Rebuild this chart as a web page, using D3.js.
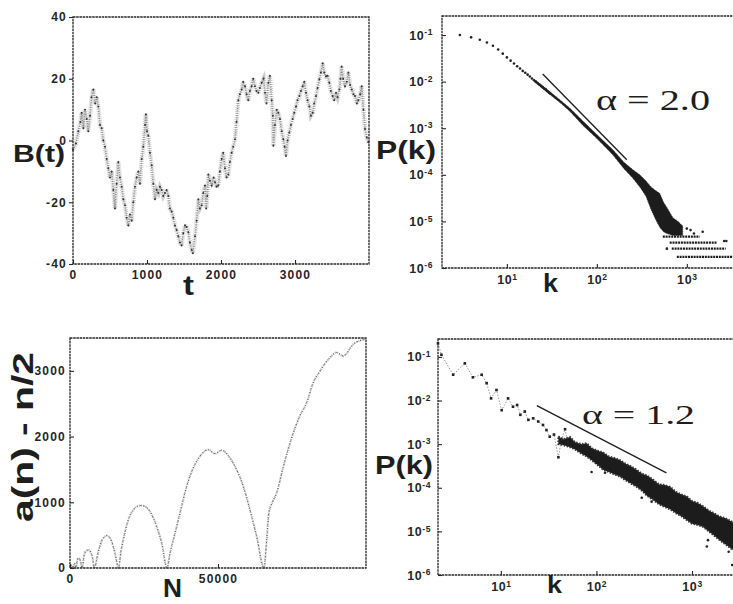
<!DOCTYPE html>
<html><head><meta charset="utf-8">
<script src="https://cdn.jsdelivr.net/npm/d3@7"></script>
<style>
html,body{margin:0;padding:0;background:#fff;}
svg{display:block;}
</style></head>
<body><svg id="fig" width="733" height="604"></svg>
<script>
// ---------- data ----------
// (a) random walk B(t)
var walkT = [0,40,72,100,117,140,162,185,207,230,250,275,300,320,342,365,387,410,432,455,477,500,522,545,567,590,612,635,658,680,703,725,748,770,793,815,838,860,883,905,928,950,973,985,1000,1018,1040,1063,1085,1108,1130,1153,1175,1198,1220,1243,1265,1288,1310,1333,1355,1378,1400,1423,1445,1468,1490,1514,1535,1559,1580,1604,1620,1649,1670,1694,1715,1739,1760,1784,1800,1815,1829,1850,1874,1900,1919,1940,1964,1985,2009,2030,2054,2075,2099,2120,2144,2165,2189,2210,2234,2255,2279,2300,2324,2345,2369,2390,2414,2435,2459,2480,2505,2525,2550,2575,2595,2615,2640,2660,2685,2700,2707,2730,2752,2775,2797,2820,2842,2860,2878,2900,2923,2945,2968,2990,3014,3035,3059,3080,3104,3125,3149,3170,3194,3215,3239,3260,3284,3305,3329,3350,3374,3395,3419,3440,3464,3485,3509,3530,3554,3575,3599,3615,3631,3650,3676,3700,3721,3745,3766,3790,3811,3835,3856,3880,3901,3925,3946,3970,3991];
var walkB = [-3,-1,3,6,9,4,10,7,3,8,14,16.5,12,14,11,5,4,0,-2,-6,-9,-12,-10,-16,-22,-14,-7,-12,-15,-19,-21,-25,-27.5,-24,-26,-20,-15,-12,-10,-14,-6,-2,5,8.5,3,1.5,-4,-8,-14,-19,-16,-17,-15,-16,-18,-17,-16,-18,-22,-23,-25,-27.5,-29,-31,-33,-34,-30,-27.5,-28,-29.7,-33,-35.5,-36.5,-31,-26,-19,-22,-21,-17,-14.6,-22,-18,-11,-13,-14.6,-12,-13.5,-15,-14.6,-10,-6,-4,-9,-12,-11,-7,-4,-2,0.4,6,13,15,16.5,19,17.6,15,13,16,17.6,20,17.6,16,15.5,17,18.7,20,15.5,12,18.7,21,13,8,-1.7,5,10,9,7,3,0.4,-2,-5,0,2.6,5,7,9,11,13,14.4,16,17.6,19,15.5,13,11,8,9,12,14.4,17,19.8,22,25,22,20.8,21,18.7,16,14.4,13,15.5,14,16.5,20,24,20,17.6,19,22,18,16.5,15,14.4,12,13,15,17.6,10,3.7,1,-0.6];
var walkXTicks = [0, 1000, 2000, 3000];
var walkYTicks = [-40, -20, 0, 20, 40];

// (b) P(k), alpha = 2.0
var dotK2 = [3,4,5,6,7,8,9,10,11,12,13,14,15,16,17,18,19,20,21,22,23,24,25,26,27,28,29,30];
var dotP2 = [0.1,0.0891,0.0794,0.0692,0.0589,0.049,0.0398,0.0331,0.0282,0.0245,0.0214,0.0191,0.017,0.0155,0.0141,0.0129,0.0117,0.0107,0.01,0.0093,0.0087,0.0081,0.0076,0.0071,0.0068,0.0063,0.006,0.0056];
var bandK2 = [20,30,40,50,70,100,130,150,200,250,300,350,400,450,500,550,600,700,800,900];
var bandHi2 = [0.0112,0.0061,0.0039,0.0027,0.00142,7.3e-4,4.5e-4,3.5e-4,1.85e-4,1.3e-4,1.0e-4,7.5e-5,5.5e-5,4.6e-5,4e-5,2.6e-5,2e-5,1.2e-5,1e-5,8e-6];
var bandLo2 = [0.0100,0.0053,0.0034,0.0023,0.00115,6.0e-4,3.6e-4,2.7e-4,1.35e-4,8.5e-5,5.5e-5,3.5e-5,1.8e-5,1.1e-5,7.5e-6,6e-6,5.5e-6,5e-6,5e-6,5e-6];
var levelP2 = [4.7e-6, 3.5e-6, 2.6e-6, 1.74e-6];
var levelK0 = [541, 645, 680, 774];
var levelK1 = [1390, 2150, 2700, 4000];
var strayK2 = [1100, 1200, 1500, 2600, 2750, 600, 1000];
var strayP2 = [6.5e-6, 5.5e-6, 6e-6, 3.8e-6, 3.8e-6, 2.6e-6, 7e-6];
var fitK2 = [25, 215];
var fitP2 = [0.0145, 2.1e-4];

// (c) a(n) - n/2
var seqN = [0,500,1024,1500,2048,2500,2900,3500,4096,4800,5500,6200,7000,7600,8192,9570,10500,11260,12400,13300,14080,15200,16384,17200,18000,19700,21400,22800,24200,25600,27000,29300,31000,32768,33800,34900,37160,39400,41650,43900,46700,49000,51240,54050,56300,58560,60800,63070,65536,66400,67200,68400,69800,72100,75450,77500,79950,82000,84460,87800,90000,92300,95700,99700];
var seqA = [0,40,0,70,0,130,150,110,0,200,260,275,240,160,0,249,390,453,493,470,402,224,0,250,427,733,885,940,951,930,860,630,377,0,230,427,835,1241,1522,1700,1800,1740,1791,1675,1496,1241,885,478,0,400,840,1000,1140,1547,2056,2300,2514,2800,2997,3200,3280,3226,3404,3480];
var seqXTicks = [0, 50000];
var seqYTicks = [0, 1000, 2000, 3000];

// (d) P(k), alpha = 1.2
var dotK4 = [2.2,2.39,3.17,4.2,5.1,6.3,7.1,7.9,9.0,10.2,11.9,13.4,14.8,16,17.8,19.4,21.8,24.6,27.6,30,32.5,36,40,43,47,50];
var dotP4 = [0.204,0.112,0.039,0.071,0.034,0.039,0.025,0.0112,0.0174,0.006,0.0112,0.0072,0.0079,0.0047,0.0056,0.0036,0.0039,0.0033,0.00275,0.0021,0.00148,0.00166,0.0005,0.00126,0.0022,0.00112];
var bandK4 = [40,45,53,60,70,79,90,105,117,135,155,176,200,230,263,300,340,390,450,520,590,680,780,885,1000,1150,1320,1500,1700,1950,2250,2700,3500];
var bandHi4 = [1.5e-3,1.3e-3,1.45e-3,1.1e-3,1.0e-3,1.05e-3,8e-4,7e-4,6.5e-4,5.2e-4,4.8e-4,4.3e-4,3.6e-4,3.1e-4,2.6e-4,2.1e-4,1.9e-4,1.55e-4,1.2e-4,1.15e-4,1.05e-4,8e-5,7e-5,6.3e-5,5e-5,4.5e-5,3.7e-5,3e-5,2.6e-5,2.2e-5,2.0e-5,1.6e-5,1.2e-5];
var bandLo4 = [1.0e-3,9.5e-4,8.5e-4,7.5e-4,6e-4,5.2e-4,4.2e-4,3.2e-4,2.6e-4,2.3e-4,2.0e-4,1.8e-4,1.5e-4,1.25e-4,1.05e-4,8.5e-5,6.5e-5,5.3e-5,4.2e-5,3.6e-5,3.2e-5,2.6e-5,2.2e-5,1.8e-5,1.5e-5,1.4e-5,1.25e-5,1.0e-5,8e-6,6.3e-6,5e-6,3.7e-6,3e-6];
var strayK4 = [89,123,298,378,1430,1470,2420,2630];
var strayP4 = [2.3e-4,2.2e-4,5.9e-5,4.8e-5,4.5e-6,6.3e-6,3.4e-6,1.7e-6];
var fitK4 = [23.8, 540];
var fitP4 = [7.6e-3, 2.2e-4];

var logXTicks = [10, 100, 1000];
var logYTicks = [1e-1, 1e-2, 1e-3, 1e-4, 1e-5, 1e-6];

// ---------- helpers ----------
var svg = d3.select('#fig');
var SANS = '"Liberation Sans", Arial, Helvetica, sans-serif';
var SERIF = '"Liberation Serif", "Times New Roman", serif';
var INK = '#262626';
var plain = function (d) { return String(d); };

function frame(x, y) {
  var r0 = x.range(), r1 = y.range();
  svg.append('rect').attr('x', r0[0]).attr('y', r1[1]).attr('width', r0[1] - r0[0]).attr('height', r1[0] - r1[1])
    .attr('fill', 'none').attr('stroke', INK).attr('stroke-width', 1.3).attr('stroke-dasharray', '2.5,0.7');
}
function styleAxis(g) {
  g.select('.domain').remove();
  g.selectAll('line').attr('stroke', INK).attr('stroke-width', 1.1);
  g.selectAll('text').attr('fill', INK).attr('font-family', SANS).attr('font-weight', 'bold')
    .attr('font-size', 12).attr('letter-spacing', 1.2);
}
function powLabel(g) {
  g.selectAll('text').each(function (d) {
    var t = d3.select(this), e = Math.round(Math.log10(d));
    t.text(null).attr('letter-spacing', 0.6).attr('font-size', 12.5);
    t.append('tspan').text('10');
    t.append('tspan').attr('dy', '-0.5em').attr('font-size', 8.5).text(e);
  });
}
function label(txt, x, y, size, len, font) {
  return svg.append('text').attr('x', x).attr('y', y).attr('font-family', font || SANS)
    .attr('font-weight', font ? 'normal' : 'bold').attr('font-size', size).attr('fill', '#1e1e1e')
    .attr('textLength', len).attr('lengthAdjust', 'spacingAndGlyphs').text(txt);
}
function idx(a) { return a.map(function (_, i) { return i; }); }

// ---------- (a) B(t) ----------
(function () {
  var x = d3.scaleLinear().domain([0, 4000]).range([73, 369]);
  var y = d3.scaleLinear().domain([-40, 40]).range([264, 17]);
  var line = d3.line().x(function (i) { return x(walkT[i]); }).y(function (i) { return y(walkB[i]); });
  svg.append('path').datum(idx(walkT)).attr('d', line).attr('fill', 'none').attr('stroke', '#cfcfcf').attr('stroke-width', 4.5).attr('stroke-dasharray', '1,1');
  svg.append('path').datum(idx(walkT)).attr('d', line).attr('fill', 'none').attr('stroke', '#8c8c8c').attr('stroke-width', 1.6).attr('stroke-dasharray', '1,1.4');
  svg.append('g').selectAll('circle').data(idx(walkT)).join('circle')
    .attr('cx', function (i) { return x(walkT[i]); }).attr('cy', function (i) { return y(walkB[i]); })
    .attr('r', 1).attr('fill', '#333');
  svg.append('g').attr('transform', 'translate(0,264)')
    .call(d3.axisBottom(x).tickValues(walkXTicks).tickFormat(plain).tickSizeInner(-4).tickSizeOuter(0).tickPadding(6)).call(styleAxis);
  svg.append('g').attr('transform', 'translate(73,0)')
    .call(d3.axisLeft(y).tickValues(walkYTicks).tickFormat(plain).tickSizeInner(4).tickSizeOuter(0).tickPadding(2)).call(styleAxis);
  frame(x, y);
  label('B(t)', 13, 162, 24, 52);
  label('t', 183, 295, 27, 11);
})();

// ---------- (b) P(k) alpha=2.0 ----------
(function () {
  var x = d3.scaleLog().domain([1.9, 4000]).range([442, 741]);
  var y = d3.scaleLog().domain([1e-6, 0.256]).range([268, 16]);
  var area = d3.area().x(function (i) { return x(bandK2[i]); })
    .y0(function (i) { return y(bandLo2[i]); }).y1(function (i) { return y(bandHi2[i]); });
  svg.append('path').datum(idx(bandK2)).attr('d', area).attr('fill', '#1c1c1c').attr('stroke', '#333').attr('stroke-width', 0.8).attr('stroke-dasharray', '1,1');
  svg.append('g').selectAll('circle').data(idx(dotK2)).join('circle')
    .attr('cx', function (i) { return x(dotK2[i]); }).attr('cy', function (i) { return y(dotP2[i]); })
    .attr('r', 1.3).attr('fill', '#222');
  svg.append('g').selectAll('line').data(idx(levelP2)).join('line')
    .attr('x1', function (i) { return x(levelK0[i]); }).attr('x2', function (i) { return x(levelK1[i]); })
    .attr('y1', function (i) { return y(levelP2[i]); }).attr('y2', function (i) { return y(levelP2[i]); })
    .attr('stroke', '#1c1c1c').attr('stroke-width', 2.2).attr('stroke-dasharray', '2,0.8');
  svg.append('g').selectAll('circle').data(idx(strayK2)).join('circle')
    .attr('cx', function (i) { return x(strayK2[i]); }).attr('cy', function (i) { return y(strayP2[i]); })
    .attr('r', 1.3).attr('fill', '#222');
  svg.append('line').attr('x1', x(fitK2[0])).attr('y1', y(fitP2[0])).attr('x2', x(fitK2[1])).attr('y2', y(fitP2[1]))
    .attr('stroke', '#222').attr('stroke-width', 1.4);
  svg.append('g').attr('transform', 'translate(0,268)')
    .call(d3.axisBottom(x).tickValues(logXTicks).tickSizeInner(-4).tickSizeOuter(0).tickPadding(7)).call(styleAxis).call(powLabel);
  svg.append('g').attr('transform', 'translate(442,0)')
    .call(d3.axisLeft(y).tickValues(logYTicks).tickSizeInner(-4).tickSizeOuter(0).tickPadding(9)).call(styleAxis).call(powLabel);
  frame(x, y);
  label('P(k)', 376, 159, 26, 60);
  label('k', 543, 292, 25, 15);
  label('\u03b1 = 2.0', 596, 110, 30, 114, SERIF);
})();

// ---------- (c) a(n) - n/2 ----------
(function () {
  var x = d3.scaleLinear().domain([0, 100000]).range([70, 366]);
  var y = d3.scaleLinear().domain([0, 3500]).range([568, 338]);
  var line = d3.line().curve(d3.curveMonotoneX).x(function (i) { return x(seqN[i]); }).y(function (i) { return y(seqA[i]); });
  svg.append('path').datum(idx(seqN)).attr('d', line).attr('fill', 'none').attr('stroke', '#b0b0b0').attr('stroke-width', 2).attr('stroke-dasharray', '1.2,1');
  svg.append('path').datum(idx(seqN)).attr('d', line).attr('fill', 'none').attr('stroke', '#555').attr('stroke-width', 1).attr('stroke-dasharray', '1,2.5');
  svg.append('g').attr('transform', 'translate(0,568)')
    .call(d3.axisBottom(x).tickValues(seqXTicks).tickFormat(plain).tickSizeInner(-4).tickSizeOuter(0).tickPadding(6)).call(styleAxis);
  svg.append('g').attr('transform', 'translate(70,0)')
    .call(d3.axisLeft(y).tickValues(seqYTicks).tickFormat(plain).tickSizeInner(-4).tickSizeOuter(0).tickPadding(4)).call(styleAxis);
  frame(x, y);
  label('a(n) - n/2', 0, 0, 29, 170).attr('transform', 'translate(33,522) rotate(-90)');
  label('N', 163, 597, 26, 19);
})();

// ---------- (d) P(k) alpha=1.2 ----------
(function () {
  var x = d3.scaleLog().domain([2.2, 3500]).range([438, 744]);
  var y = d3.scaleLog().domain([1e-6, 0.257]).range([575, 339]);
  var line = d3.line().x(function (i) { return x(dotK4[i]); }).y(function (i) { return y(dotP4[i]); });
  svg.append('path').datum(idx(dotK4)).attr('d', line).attr('fill', 'none').attr('stroke', '#9a9a9a').attr('stroke-width', 1).attr('stroke-dasharray', '1.5,1.5');
  var area = d3.area().x(function (i) { return x(bandK4[i]); })
    .y0(function (i) { return y(bandLo4[i]); }).y1(function (i) { return y(bandHi4[i]); });
  svg.append('path').datum(idx(bandK4)).attr('d', area).attr('fill', '#1c1c1c').attr('stroke', '#333').attr('stroke-width', 2).attr('stroke-dasharray', '1.5,1.5');
  svg.append('g').selectAll('rect').data(idx(dotK4)).join('rect')
    .attr('x', function (i) { return x(dotK4[i]) - 1.3; }).attr('y', function (i) { return y(dotP4[i]) - 1.3; })
    .attr('width', 2.6).attr('height', 2.6).attr('fill', '#222');
  svg.append('g').selectAll('circle').data(idx(strayK4)).join('circle')
    .attr('cx', function (i) { return x(strayK4[i]); }).attr('cy', function (i) { return y(strayP4[i]); })
    .attr('r', 1.3).attr('fill', '#222');
  svg.append('line').attr('x1', x(fitK4[0])).attr('y1', y(fitP4[0])).attr('x2', x(fitK4[1])).attr('y2', y(fitP4[1]))
    .attr('stroke', '#222').attr('stroke-width', 1.4);
  svg.append('g').attr('transform', 'translate(0,575)')
    .call(d3.axisBottom(x).tickValues(logXTicks).tickSizeInner(-4).tickSizeOuter(0).tickPadding(7)).call(styleAxis).call(powLabel);
  svg.append('g').attr('transform', 'translate(438,0)')
    .call(d3.axisLeft(y).tickValues(logYTicks).tickSizeInner(-4).tickSizeOuter(0).tickPadding(7)).call(styleAxis).call(powLabel);
  frame(x, y);
  label('P(k)', 375, 474, 25, 58);
  label('k', 547, 593, 24, 15);
  label('\u03b1 = 1.2', 582, 424, 28, 113, SERIF);
})();
</script></body></html>
